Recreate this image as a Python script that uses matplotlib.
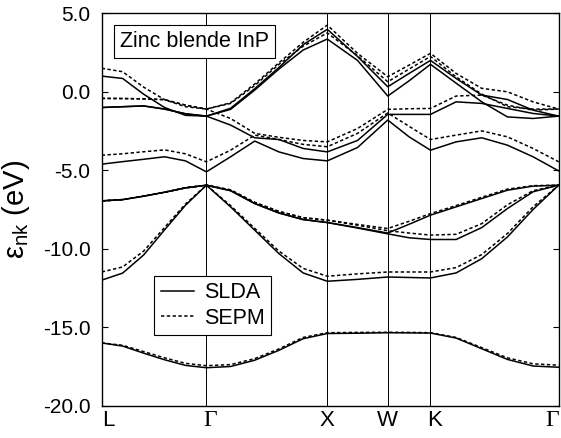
import numpy as np
import matplotlib.pyplot as plt
import matplotlib.transforms as mtransforms

plt.rcParams["font.family"] = ["Liberation Sans", "DejaVu Sans"]
plt.rcParams["mathtext.fontset"] = "custom"
plt.rcParams["mathtext.rm"] = "Liberation Sans"
plt.rcParams["mathtext.it"] = "Liberation Sans:italic"

# k-path: L - Gamma - X - W - K - Gamma (segment lengths in 2pi/a units)
kpoint_labels = ["L", "\u0393", "X", "W", "K", "\u0393"]
segment_lengths = [np.sqrt(3) / 2, 1.0, 0.5, np.sqrt(2) / 4, 3 * np.sqrt(2) / 4]
segment_steps = [5, 5, 2, 2, 5]

# energies (eV) at the 20 sampled k-points:
# L, 4 pts, G, 4 pts, X, 1 pt, W, 1 pt, K, 4 pts, G
slda_band1 = [-16.0, -16.2, -16.65, -17.07, -17.43, -17.58, -17.5, -17.1, -16.47, -15.73,
              -15.4, -15.38, -15.35, -15.36, -15.37, -15.69, -16.37, -17.05, -17.47, -17.55]
slda_band2 = [-12.0, -11.55, -10.4, -8.8, -7.23, -5.95, -7.33, -8.82, -10.31, -11.54,
              -12.07, -11.95, -11.8, -11.83, -11.86, -11.54, -10.63, -9.25, -7.5, -5.95]
slda_band3 = [-6.95, -6.87, -6.65, -6.4, -6.12, -5.95, -6.3, -7.12, -7.72, -8.14,
              -8.33, -8.68, -9.05, -9.3, -9.41, -9.41, -8.65, -7.44, -6.37, -5.95]
slda_band4 = [-6.95, -6.87, -6.65, -6.4, -6.12, -5.95, -6.3, -7.12, -7.72, -8.14,
              -8.33, -8.65, -9.0, -8.44, -7.86, -7.33, -6.8, -6.27, -6.01, -5.95]
slda_band5 = [-4.61, -4.45, -4.3, -4.14, -4.4, -5.1, -4.14, -3.14, -3.83, -4.25,
              -4.4, -3.55, -1.8, -2.87, -3.72, -3.19, -2.93, -3.4, -4.14, -5.04]
slda_band6 = [-1.0, -0.95, -0.9, -1.1, -1.4, -1.55, -2.12, -2.93, -3.04, -3.61,
              -3.83, -3.1, -1.44, -1.44, -1.44, -0.64, -0.74, -1.06, -1.38, -1.55]
slda_band7 = [-1.0, -0.95, -0.9, -1.1, -1.4, -1.55, -1.12, 0.11, 1.45, 2.66,
              3.36, 2.0, -0.27, 0.7, 1.75, 0.55, -0.64, -1.6, -1.7, -1.55]
slda_band8 = [1.0, 0.85, -0.15, -1.0, -1.5, -1.55, -1.05, 0.2, 1.55, 3.0,
              3.98, 2.25, 0.32, 1.17, 2.0, 0.85, -0.21, -0.49, -1.17, -1.55]

sepm_band1 = [-16.0, -16.15, -16.55, -16.95, -17.3, -17.45, -17.38, -17.0, -16.38, -15.65,
              -15.35, -15.33, -15.32, -15.33, -15.35, -15.65, -16.3, -16.95, -17.33, -17.42]
sepm_band2 = [-11.48, -11.16, -10.15, -8.65, -7.15, -5.95, -7.25, -8.7, -10.15, -11.25,
              -11.75, -11.6, -11.48, -11.48, -11.48, -11.2, -10.37, -9.03, -7.33, -5.95]
sepm_band3 = [-6.95, -6.87, -6.65, -6.4, -6.12, -5.95, -6.25, -7.05, -7.62, -8.02,
              -8.18, -8.5, -8.85, -9.0, -9.13, -9.08, -8.4, -7.2, -6.3, -5.95]
sepm_band4 = [-6.95, -6.87, -6.65, -6.4, -6.12, -5.95, -6.25, -7.05, -7.62, -8.02,
              -8.18, -8.45, -8.71, -8.25, -7.76, -7.25, -6.72, -6.2, -5.98, -5.95]
sepm_band5 = [-4.04, -3.95, -3.82, -3.7, -3.95, -4.46, -3.72, -2.76, -3.04, -3.35,
              -3.5, -2.65, -1.35, -2.2, -3.04, -2.76, -2.49, -2.87, -3.61, -4.46]
sepm_band6 = [-0.42, -0.43, -0.45, -0.5, -0.85, -1.1, -1.7, -2.65, -2.9, -3.1,
              -3.19, -2.34, -1.12, -1.08, -1.06, -0.27, -0.21, -0.85, -1.17, -1.1]
sepm_band7 = [-0.42, -0.43, -0.45, -0.5, -0.85, -1.1, -0.74, 0.4, 1.75, 2.9,
              3.75, 2.3, 0.64, 1.45, 2.25, 0.95, -0.15, -0.95, -1.1, -1.1]
sepm_band8 = [1.5, 1.28, 0.3, -0.5, -0.95, -1.1, -0.7, 0.5, 1.85, 3.15,
              4.25, 2.45, 0.96, 1.7, 2.45, 1.17, 0.22, 0.0, -0.64, -1.1]

slda_bands = [slda_band1, slda_band2, slda_band3, slda_band4,
              slda_band5, slda_band6, slda_band7, slda_band8]
sepm_bands = [sepm_band1, sepm_band2, sepm_band3, sepm_band4,
              sepm_band5, sepm_band6, sepm_band7, sepm_band8]


def kpath():
    # cumulative distance along the path for every sampled point
    nodes = np.concatenate([[0.0], np.cumsum(segment_lengths)])
    xs = [nodes[0]]
    for a, b, n in zip(nodes[:-1], nodes[1:], segment_steps):
        xs.extend(np.linspace(a, b, n + 1)[1:])
    return np.array(xs), nodes


def main() -> None:
    k, nodes = kpath()

    fig = plt.figure(figsize=(5.61, 4.38), dpi=100)
    ax = fig.add_axes([0.1813, 0.0737, 0.8146, 0.8959])

    for node in nodes[1:-1]:
        ax.axvline(node, color="black", lw=0.7, zorder=1)

    dash = (0, (2.2, 1.6))
    for i, band in enumerate(sepm_bands):
        ax.plot(k, band, color="black", lw=1.1, linestyle=dash,
                label="SEPM" if i == 0 else None, zorder=2)
    for i, band in enumerate(slda_bands):
        ax.plot(k, band, color="black", lw=1.1,
                label="SLDA" if i == 0 else None, zorder=3)

    ax.set_xlim(nodes[0], nodes[-1])
    ax.set_ylim(-20, 5)
    ax.set_yticks(np.arange(-20, 5.1, 5))
    ax.set_yticklabels([f"{v:.1f}" for v in np.arange(-20, 5.1, 5)])
    ax.tick_params(axis="y", direction="in", length=4.5, width=0.8,
                   right=True, labelsize=15, pad=8)

    ax.set_xticks(nodes)
    ax.set_xticklabels(kpoint_labels)
    ax.tick_params(axis="x", length=0, labelsize=16, pad=3)
    # labels in the original sit a little to the right of the k-point lines
    shift = mtransforms.ScaledTranslation(4 / 100, 0, fig.dpi_scale_trans)
    xlabels = ax.get_xticklabels()
    for i, lbl in enumerate(xlabels):
        if lbl.get_text() == "\u0393":
            lbl.set_fontfamily("Liberation Serif")
            lbl.set_fontsize(17)
    xlabels[0].set_horizontalalignment("left")
    xlabels[-1].set_horizontalalignment("right")
    for i in (1, 4):
        xlabels[i].set_transform(xlabels[i].get_transform() + shift)

    for sp in ax.spines.values():
        sp.set_linewidth(1.0)

    ax.set_ylabel("$\\mathregular{\u03b5_{nk}}$ (eV)", fontsize=21)
    ax.yaxis.set_label_coords(-0.152, 0.5)

    ax.text(0.203, 0.927, "Zinc blende InP", transform=ax.transAxes, fontsize=15.5,
            ha="center", va="center",
            bbox=dict(boxstyle="square,pad=0.28", facecolor="white",
                      edgecolor="black", linewidth=0.8))

    handles, labels = ax.get_legend_handles_labels()
    order = [labels.index("SLDA"), labels.index("SEPM")]
    leg = ax.legend([handles[i] for i in order], [labels[i] for i in order],
                    loc="lower left", bbox_to_anchor=(0.115, 0.18),
                    borderaxespad=0, fontsize=15.5, fancybox=False,
                    framealpha=1, edgecolor="black", handlelength=1.55,
                    handletextpad=0.45, labelspacing=0.2, borderpad=0.3)
    leg.get_frame().set_linewidth(0.8)

    fig.savefig("out.png", dpi=100)


if __name__ == "__main__":
    main()
